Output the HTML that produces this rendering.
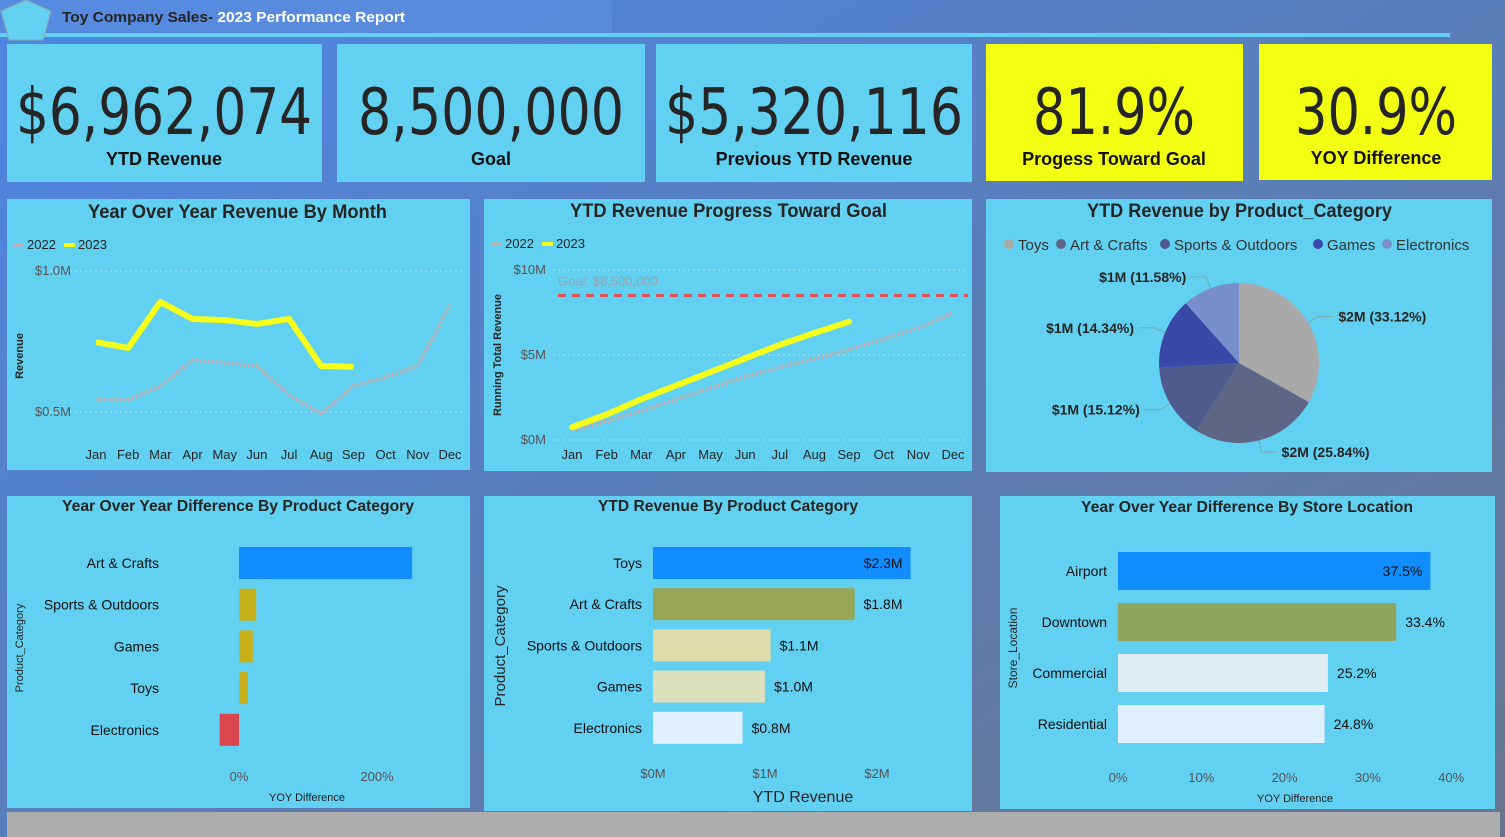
<!DOCTYPE html>
<html><head><meta charset="utf-8"><style>
html,body{margin:0;padding:0;width:1505px;height:837px;overflow:hidden;}
svg{display:block;font-family:"Liberation Sans",sans-serif;}
.t{font-family:"Liberation Sans Narrow","Liberation Sans",sans-serif;font-weight:bold;fill:#252525;}
.tick{font-family:"Liberation Sans Narrow","Liberation Sans",sans-serif;font-size:13px;fill:#252525;}
.gtick{font-family:"Liberation Sans Narrow","Liberation Sans",sans-serif;font-size:13px;fill:#555;}
</style></head><body>
<svg id="s" width="1505" height="837" viewBox="0 0 1505 837">
<defs><linearGradient id="bg" x1="0" y1="0" x2="1" y2="1"><stop offset="0" stop-color="#4d86e4"/><stop offset="1" stop-color="#68768f"/></linearGradient></defs>
<rect width="1505" height="837" fill="url(#bg)"/>
<rect x="0" y="0" width="612" height="34" fill="#5e8fe0" opacity="0.6"/>
<rect x="0" y="33" width="1450" height="4" fill="#62d0f0"/>
<polygon points="26,0 51,11 43,40 9,40 1,11" fill="#62d0f0" stroke="#8aa" stroke-width="1"/>
<text x="62" y="22" class="t" font-size="15" textLength="343" lengthAdjust="spacingAndGlyphs">Toy Company Sales- <tspan fill="#fff">2023 Performance Report</tspan></text>

<g><rect x="7" y="44" width="315" height="138" fill="#62d0f0"/>
<text x="164" y="134" text-anchor="middle" font-family="DejaVu Sans Condensed,Liberation Sans Narrow,sans-serif" font-size="64" fill="#252525" textLength="296" lengthAdjust="spacingAndGlyphs">$6,962,074</text>
<text x="164" y="165" text-anchor="middle" font-weight="bold" font-size="18" fill="#111">YTD Revenue</text></g>
<g><rect x="337" y="44" width="308" height="138" fill="#62d0f0"/>
<text x="491" y="134" text-anchor="middle" font-family="DejaVu Sans Condensed,Liberation Sans Narrow,sans-serif" font-size="64" fill="#252525" textLength="266" lengthAdjust="spacingAndGlyphs">8,500,000</text>
<text x="491" y="165" text-anchor="middle" font-weight="bold" font-size="18" fill="#111">Goal</text></g>
<g><rect x="656" y="44" width="316" height="138" fill="#62d0f0"/>
<text x="814" y="134" text-anchor="middle" font-family="DejaVu Sans Condensed,Liberation Sans Narrow,sans-serif" font-size="64" fill="#252525" textLength="298" lengthAdjust="spacingAndGlyphs">$5,320,116</text>
<text x="814" y="165" text-anchor="middle" font-weight="bold" font-size="18" fill="#111">Previous YTD Revenue</text></g>
<g><rect x="986" y="44" width="257" height="137" fill="#f2ff12"/>
<text x="1114" y="134" text-anchor="middle" font-family="DejaVu Sans Condensed,Liberation Sans Narrow,sans-serif" font-size="64" fill="#252525" textLength="162" lengthAdjust="spacingAndGlyphs">81.9%</text>
<text x="1114" y="165" text-anchor="middle" font-weight="bold" font-size="18" fill="#111">Progess Toward Goal</text></g>
<g><rect x="1259" y="44" width="233" height="136" fill="#f2ff12"/>
<text x="1376" y="134" text-anchor="middle" font-family="DejaVu Sans Condensed,Liberation Sans Narrow,sans-serif" font-size="64" fill="#252525" textLength="162" lengthAdjust="spacingAndGlyphs">30.9%</text>
<text x="1376" y="164" text-anchor="middle" font-weight="bold" font-size="18" fill="#111">YOY Difference</text></g>

<rect x="7" y="199" width="463" height="271" fill="#62d0f0"/>
<rect x="484" y="199" width="488" height="272" fill="#62d0f0"/>
<rect x="986" y="199" width="506" height="273" fill="#62d0f0"/>
<rect x="7" y="496" width="463" height="312" fill="#62d0f0"/>
<rect x="484" y="496" width="488" height="315" fill="#62d0f0"/>
<rect x="1000" y="496" width="495" height="313" fill="#62d0f0"/>
<rect x="7" y="812" width="1493" height="25" fill="#adadad"/>

<text x="88" y="218" class="t" font-size="19" textLength="299" lengthAdjust="spacingAndGlyphs">Year Over Year Revenue By Month</text>
<text x="570" y="217" class="t" font-size="19" textLength="317" lengthAdjust="spacingAndGlyphs">YTD Revenue Progress Toward Goal</text>
<text x="1087" y="217" class="t" font-size="19" textLength="305" lengthAdjust="spacingAndGlyphs">YTD Revenue by Product_Category</text>
<text x="62" y="511" class="t" font-size="16" textLength="352" lengthAdjust="spacingAndGlyphs">Year Over Year Difference By Product Category</text>
<text x="598" y="511" class="t" font-size="16" textLength="260" lengthAdjust="spacingAndGlyphs">YTD Revenue By Product Category</text>
<text x="1081" y="512" class="t" font-size="16" textLength="332" lengthAdjust="spacingAndGlyphs">Year Over Year Difference By Store Location</text>
<g id="dyn"></g>
</svg>
<script>
const months=["Jan","Feb","Mar","Apr","May","Jun","Jul","Aug","Sep","Oct","Nov","Dec"];
const rev2022=[0.543,0.543,0.592,0.684,0.674,0.663,0.56,0.493,0.592,0.624,0.663,0.88];
const rev2023=[0.748,0.727,0.89,0.83,0.826,0.812,0.83,0.663,0.66];
const cum2022=[0.55,1.1,1.7,2.38,3.05,3.72,4.28,4.77,5.32,5.94,6.6,7.48];
const cum2023=[0.75,1.5,2.4,3.2,4.0,4.8,5.6,6.3,6.96];
const goalM=8.5;
const pieCats=["Toys","Art & Crafts","Sports & Outdoors","Games","Electronics"];
const piePct=[33.12,25.84,15.12,14.34,11.58];
const pieVals=["$2M","$2M","$1M","$1M","$1M"];
const yoyProdCats=["Art & Crafts","Sports & Outdoors","Games","Toys","Electronics"];
const yoyProdVals=[251,25,20,13,-28];
const ytdProdCats=["Toys","Art & Crafts","Sports & Outdoors","Games","Electronics"];
const ytdProdVals=[2.3,1.8,1.05,1.0,0.8];
const ytdProdLabels=["$2.3M","$1.8M","$1.1M","$1.0M","$0.8M"];
const storeCats=["Airport","Downtown","Commercial","Residential"];
const storeVals=[37.5,33.4,25.2,24.8];

const NS="http://www.w3.org/2000/svg";
const root=document.getElementById('dyn');
function mk(tag,attrs,parent,txt){const e=document.createElementNS(NS,tag);for(const k in attrs)e.setAttribute(k,attrs[k]);if(txt!==undefined)e.textContent=txt;(parent||root).appendChild(e);return e;}

(function(){
 const g=mk('g',{});
 
 
 const x=i=>96+i*(450-96)/11, y=v=>271+(1.0-v)*282;
 [1.0,0.5].forEach(v=>{const l=mk('line',{x1:45,x2:462,y1:y(v),y2:y(v),stroke:'#a8e6f6','stroke-dasharray':'2,3'},g);
  const t=mk('text',{x:71,y:y(v)+4,'text-anchor':'end',class:'gtick'},g,'$'+v.toFixed(1)+'M');});
 months.forEach((m,i)=>{const t=mk('text',{x:x(i),y:459,'text-anchor':'middle',class:'tick','font-size':12},g,m);});
 const p2=mk('polyline',{points:rev2022.map((v,i)=>x(i)+','+y(v)).join(' '),fill:'none',stroke:'#c9a7aa','stroke-width':4,'stroke-dasharray':'2,2'},g);
 const p3=mk('polyline',{points:rev2023.map((v,i)=>x(i)+','+y(v)).join(' '),fill:'none',stroke:'#f5ff1a','stroke-width':6,'stroke-linejoin':'round'},g);
 const yt=mk('text',{transform:'translate(23,356) rotate(-90)','text-anchor':'middle','font-size':11,'font-weight':'bold',fill:'#252525'},g,'Revenue');
 const lg=mk('g',{},g);
 mk('line',{x1:14,x2:24,y1:245,y2:245,stroke:'#c9a7aa','stroke-width':3},lg);
 mk('text',{x:27,y:249,class:'tick'},lg,'2022');
 mk('line',{x1:64,x2:75,y1:245,y2:245,stroke:'#f5ff1a','stroke-width':4},lg);
 mk('text',{x:78,y:249,class:'tick'},lg,'2023');
})();

(function(){
 const g=mk('g',{});
 
 
 const x=i=>572+i*(953-572)/11, y=v=>440-v*17;
 [0,5,10].forEach(v=>{const l=mk('line',{x1:553,x2:968,y1:y(v),y2:y(v),stroke:'#a8e6f6','stroke-dasharray':'2,3'},g);
  const t=mk('text',{x:546,y:y(v)+4,'text-anchor':'end',class:'gtick'},g,'$'+v+'M');});
 months.forEach((m,i)=>{const t=mk('text',{x:x(i),y:459,'text-anchor':'middle',class:'tick','font-size':12},g,m);});
 const gl=mk('line',{x1:558,x2:968,y1:y(goalM),y2:y(goalM),stroke:'#e0505a','stroke-width':3,'stroke-dasharray':'8,6'},g);
 const gt=mk('text',{x:558,y:y(goalM)-10,class:'gtick'},g,'Goal: $8,500,000');gt.setAttribute('style','fill:#8fa6b0');
 const p2=mk('polyline',{points:cum2022.map((v,i)=>x(i)+','+y(v)).join(' '),fill:'none',stroke:'#c9a7aa','stroke-width':4,'stroke-dasharray':'2,2'},g);
 const p3=mk('polyline',{points:cum2023.map((v,i)=>x(i)+','+y(v)).join(' '),fill:'none',stroke:'#f5ff1a','stroke-width':6,'stroke-linejoin':'round','stroke-linecap':'round'},g);
 const yt=mk('text',{transform:'translate(501,355) rotate(-90)','text-anchor':'middle','font-size':11,'font-weight':'bold',fill:'#252525'},g,'Running Total Revenue');
 const lg=mk('g',{},g);
 mk('line',{x1:492,x2:502,y1:244,y2:244,stroke:'#c9a7aa','stroke-width':3},lg);
 mk('text',{x:505,y:248,class:'tick'},lg,'2022');
 mk('line',{x1:542,x2:553,y1:244,y2:244,stroke:'#f5ff1a','stroke-width':4},lg);
 mk('text',{x:556,y:248,class:'tick'},lg,'2023');
})();

(function(){
 const g=mk('g',{});
 
 
 const cols=['#a9a9a9','#5f6585','#4f5a8d','#3a49a8','#788fcd'];
 const cx=1239,cy=363,r=80;
 const lx=[1004,1056,1160,1313,1382];
 pieCats.forEach((c,i)=>{mk('circle',{cx:lx[i]+5,cy:244,r:5,fill:cols[i]},g);const t=mk('text',{x:lx[i]+14,y:250,'font-size':15,fill:'#333'},g,c);});
 const tot=piePct.reduce((a,b)=>a+b,0);let a0=0;
 piePct.forEach((p,i)=>{
  const a1=a0+p/tot*2*Math.PI;
  const P=a=>[cx+r*Math.sin(a),cy-r*Math.cos(a)];
  const [x0,y0]=P(a0),[x1,y1]=P(a1);
  const s=mk('path',{d:`M${cx},${cy}L${x0},${y0}A${r},${r} 0 ${a1-a0>Math.PI?1:0} 1 ${x1},${y1}Z`,fill:cols[i]},g);
  
  const am=(a0+a1)/2;const [ex,ey]=P(am);const ox=cx+(r+12)*Math.sin(am),oy=cy-(r+12)*Math.cos(am);
  const right=Math.sin(am)>=0;const hx=ox+(right?16:-16);
  mk('polyline',{points:`${ex},${ey} ${ox},${oy} ${hx},${oy}`,fill:'none',stroke:'#7aa',"stroke-width":1},g);
  const t=mk('text',{x:hx+(right?4:-4),y:oy+5,'text-anchor':right?'start':'end','font-size':14,'font-weight':'bold',fill:'#252525'},g,pieVals[i]+' ('+p.toFixed(2)+'%)');
  
  a0=a1;});
})();

function hbar(name,cats,vals,opts){
 const g=mk('g',{});
 
 
 cats.forEach((c,i)=>{
  const cy=opts.c0+i*opts.step;const v=vals[i];
  const xa=opts.x(0),xb=opts.x(v);
  const b=mk('rect',{x:Math.min(xa,xb),y:cy-opts.h/2,width:Math.abs(xb-xa),height:opts.h,fill:opts.col(i,v)},g);
  
  const t=mk('text',{x:opts.lx,y:cy+5,'text-anchor':'end','font-size':14,fill:'#111'},g,c);
  
  if(opts.lab){const L=opts.lab(i,v);const inside=opts.inside&&opts.inside(i);
   const dl=mk('text',{x:inside?xb-8:xb+9,y:cy+5,'text-anchor':inside?'end':'start','font-size':14,fill:'#111'},g,L);
   }
 });
 opts.ticks.forEach((tv,i)=>{const t=mk('text',{x:opts.x(tv),y:opts.ty,'text-anchor':'middle',class:'gtick','font-size':13},g,opts.tl[i]);});
 return g;
}
hbar('yoy-product-chart',yoyProdCats,yoyProdVals,{c0:563,step:41.7,h:32,x:v=>239+v*0.69,lx:159,
 col:(i,v)=>v<0?'#d9464f':(i===0?'#118dff':'#c8b01a'),ticks:[0,200],tl:['0%','200%'],ty:781});
hbar('ytd-product-chart',ytdProdCats,ytdProdVals,{c0:563,step:41.2,h:32,x:v=>653+v*112,lx:642,
 col:i=>['#118dff','#98a757','#dedcaa','#dde0bd','#e2f1ff'][i],lab:(i)=>ytdProdLabels[i],inside:i=>i===0,ticks:[0,1,2],tl:['$0M','$1M','$2M'],ty:778});
hbar('yoy-store-chart',storeCats,storeVals,{c0:571,step:51,h:38,x:v=>1118+v*8.33,lx:1107,
 col:i=>['#118dff','#8fa55e','#dfecf0','#e0f0fe'][i],lab:(i,v)=>v.toFixed(1)+'%',inside:i=>i===0,ticks:[0,10,20,30,40],tl:['0%','10%','20%','30%','40%'],ty:782});

function axTitle(txt,attrs,nm){const t=mk('text',attrs,root,txt);}
axTitle('YOY Difference',{x:307,y:801,'text-anchor':'middle','font-size':11,fill:'#252525'},'x-axis-title');
axTitle('Product_Category',{transform:'translate(23,648) rotate(-90)','text-anchor':'middle','font-size':11,fill:'#252525'},'y-axis-title');
axTitle('YTD Revenue',{x:803,y:802,'text-anchor':'middle','font-size':16,fill:'#252525'},'x-axis-title');
axTitle('Product_Category',{transform:'translate(505,646) rotate(-90)','text-anchor':'middle','font-size':15,fill:'#252525'},'y-axis-title');
axTitle('YOY Difference',{x:1295,y:802,'text-anchor':'middle','font-size':11,fill:'#252525'},'x-axis-title');
axTitle('Store_Location',{transform:'translate(1017,648) rotate(-90)','text-anchor':'middle','font-size':12,fill:'#252525'},'y-axis-title');
</script>
</body></html>
